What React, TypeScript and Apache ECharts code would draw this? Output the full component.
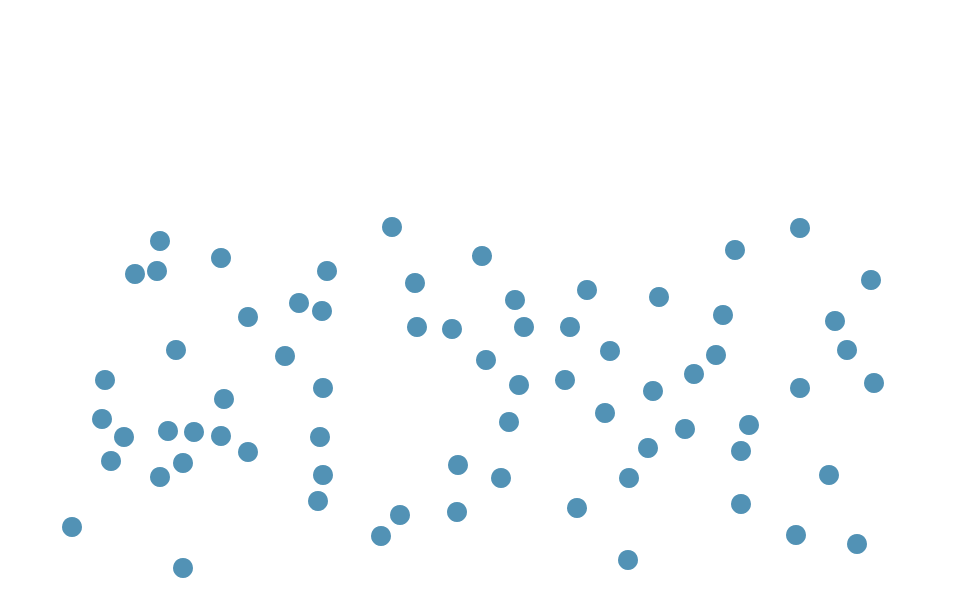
import * as echarts from 'echarts';
import { useEffect, useRef } from 'react';

// point positions (x to the right, y downward)
const xValues = [
    159, 134, 156, 220, 247, 175, 104, 101, 123, 110, 167, 193, 220, 223, 247, 182, 159, 71, 182,
    326, 298, 321, 284, 322, 319, 322, 317,
    391, 414, 416, 451, 399, 380, 456, 457,
    481, 514, 523, 485, 518, 508, 500,
    586, 569, 609, 564, 604, 576, 628, 627,
    658, 652, 647, 684, 693, 715, 722, 734, 748, 740, 740,
    799, 799, 834, 846, 870, 873, 828, 795, 856,
];
const yValues = [
    240, 273, 270, 257, 316, 349, 379, 418, 436, 460, 430, 431, 435, 398, 451, 462, 476, 526, 567,
    270, 302, 310, 355, 387, 436, 474, 500,
    226, 282, 326, 328, 514, 535, 511, 464,
    255, 299, 326, 359, 384, 421, 477,
    289, 326, 350, 379, 412, 507, 477, 559,
    296, 390, 447, 428, 373, 354, 314, 249, 424, 450, 503,
    227, 387, 320, 349, 279, 382, 474, 534, 543,
];

const App = () => {
    const chartRef = useRef<HTMLDivElement>(null);

    useEffect(() => {
        if (!chartRef.current) return;
        document.body.style.margin = '0';
        const chart = echarts.init(chartRef.current, null, { renderer: 'svg' });

        chart.setOption({
            animation: false,
            grid: { left: 0, right: 0, top: 0, bottom: 0 },
            xAxis: { type: 'value', min: -1, max: 979, show: false },
            yAxis: { type: 'value', min: -1, max: 604, inverse: true, show: false },
            series: [
                {
                    type: 'scatter',
                    symbolSize: 20,
                    itemStyle: { color: '#5292b5', opacity: 1 },
                    data: xValues.map((x, i) => [x, yValues[i]]),
                },
            ],
        });

        return () => chart.dispose();
    }, []);

    return <div ref={chartRef} style={{ width: 980, height: 605 }} />;
};

export default App;
